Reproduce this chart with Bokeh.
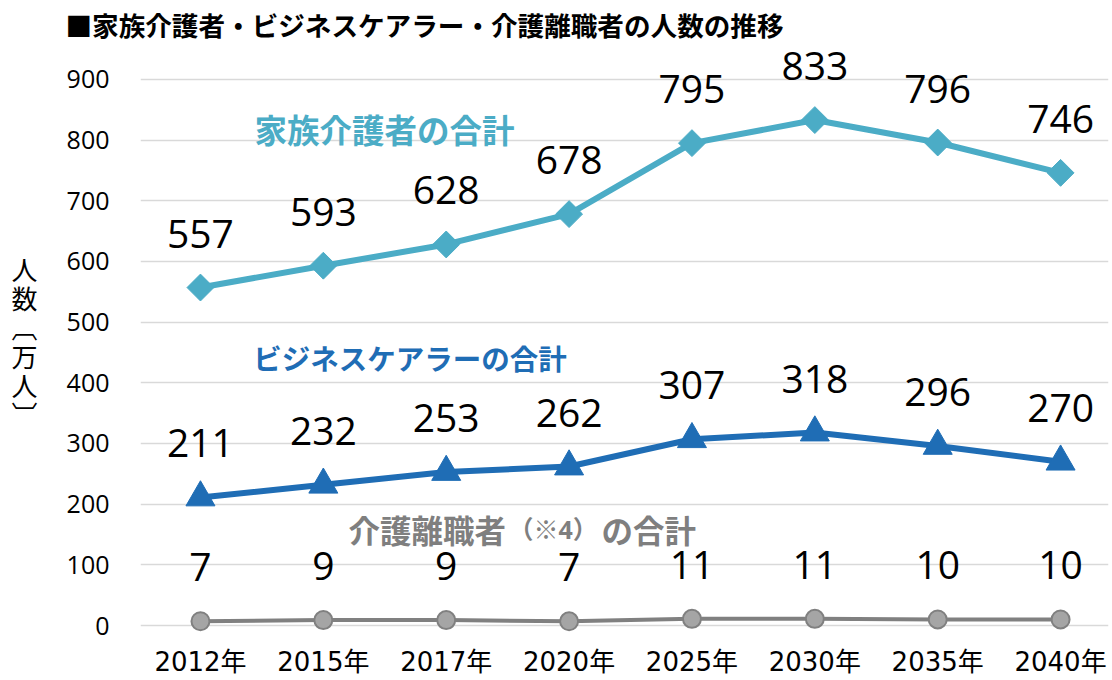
from bokeh.plotting import figure
from bokeh.models import Label, FixedTicker, ColumnDataSource
from bokeh.core.properties import value
from bokeh.embed import file_html
from bokeh.resources import INLINE
import numpy as np

years = ["2012年", "2015年", "2017年", "2020年", "2025年", "2030年", "2035年", "2040年"]
family = [557, 593, 628, 678, 795, 833, 796, 746]
business = [211, 232, 253, 262, 307, 318, 296, 270]
leave = [7, 9, 9, 7, 11, 11, 10, 10]
y_ticks = [0, 100, 200, 300, 400, 500, 600, 700, 800, 900]

title_text = "■家族介護者・ビジネスケアラー・介護離職者の人数の推移"
y_label = "人\n数\n︹\n万\n人\n︺"
family_name = "家族介護者の合計"
business_name = "ビジネスケアラーの合計"
leave_name = ["介護離職者", "（※4）", "の合計"]

TEAL = "#4BACC6"
BLUE = "#1F6DB5"
GRAY_LINE = "#808080"
GRAY_FILL = "#A5A5A5"
GRAY_TEXT = "#7F7F7F"
JP_FONT = "Noto Sans CJK JP"

xs = list(range(len(years)))

p = figure(width=1112, height=680, output_backend="svg", toolbar_location=None,
           x_range=(-0.488, 7.39), y_range=(-18.1, 955.9),
           min_border_left=140, min_border_right=4, min_border_top=44, min_border_bottom=44)
p.outline_line_color = None
p.background_fill_color = "white"
p.border_fill_color = "white"

p.title.text = title_text
p.title.align = "left"
p.title.offset = -75
p.title.standoff = 4
p.title.text_font = JP_FONT
p.title.text_font_size = "26.6px"
p.title.text_font_style = "bold"
p.title.text_color = "#000000"

p.xgrid.grid_line_color = None
p.ygrid.grid_line_color = "#D9D9D9"
p.ygrid.grid_line_width = 1.5
p.yaxis.ticker = FixedTicker(ticks=y_ticks)
p.xaxis.ticker = FixedTicker(ticks=xs)
p.xaxis.major_label_overrides = {i: y for i, y in enumerate(years)}
for ax in (p.xaxis, p.yaxis):
    ax.axis_line_color = None
    ax.major_tick_line_color = None
    ax.minor_tick_line_color = None
    ax.major_label_text_color = "#000000"
p.yaxis.major_label_text_font = "Open Sans"
p.yaxis.major_label_text_font_size = "25px"
p.yaxis.major_label_standoff = 25
p.xaxis.major_label_text_font = "DejaVu Sans, Noto Sans CJK JP"
p.xaxis.major_label_text_font_size = "26px"
p.xaxis.major_label_standoff = 4

p.yaxis.axis_label = y_label
p.yaxis.axis_label_orientation = "horizontal"
p.yaxis.axis_label_text_font = JP_FONT
p.yaxis.axis_label_text_font_size = "26px"
p.yaxis.axis_label_text_font_style = "normal"
p.yaxis.axis_label_text_color = "#000000"
p.yaxis.axis_label_text_line_height = 0.78
p.yaxis.axis_label_standoff = 26

src = ColumnDataSource(dict(x=xs, fam=family, bus=business, lea=leave,
                            fam_t=[str(v) for v in family],
                            bus_t=[str(v) for v in business],
                            lea_t=[str(v) for v in leave]))

# family caregivers
p.line("x", "fam", source=src, line_color=TEAL, line_width=6)
p.scatter("x", "fam", source=src, marker="square", angle=np.pi / 4, size=19,
          fill_color=TEAL, line_color=TEAL)
# business carers
p.line("x", "bus", source=src, line_color=BLUE, line_width=6)
p.scatter("x", "bus", source=src, marker="triangle", size=29,
          fill_color=BLUE, line_color=BLUE)
# care leavers
p.line("x", "lea", source=src, line_color=GRAY_LINE, line_width=4)
p.scatter("x", "lea", source=src, marker="circle", size=18,
          fill_color=GRAY_FILL, line_color=GRAY_LINE, line_width=2)

for col, txt in (("fam", "fam_t"), ("bus", "bus_t"), ("lea", "lea_t")):
    p.text("x", col, text=txt, source=src, text_align="center", text_baseline="middle",
           y_offset=-54, text_font=value("Open Sans"), text_font_size="39px",
           text_color="#000000")

# series names
p.add_layout(Label(x=0.44, y=819, text=family_name, text_align="left", text_baseline="middle",
                   text_font=JP_FONT, text_font_size="32.5px", text_font_style="bold",
                   text_color=TEAL))
p.add_layout(Label(x=0.43, y=442, text=business_name, text_align="left", text_baseline="middle",
                   text_font=JP_FONT, text_font_size="28.5px", text_font_style="bold",
                   text_color=BLUE))
p.add_layout(Label(x=1.205, y=159, text=leave_name[0], text_align="left", text_baseline="middle",
                   text_font=JP_FONT, text_font_size="31.5px", text_font_style="bold",
                   text_color=GRAY_TEXT))
p.add_layout(Label(x=2.87, y=159, text=leave_name[1], text_align="center", text_baseline="middle",
                   text_font="Open Sans, Noto Sans CJK JP", text_font_size="25px",
                   text_font_style="bold", text_color=GRAY_TEXT))
p.add_layout(Label(x=3.264, y=159, text=leave_name[2], text_align="left", text_baseline="middle",
                   text_font=JP_FONT, text_font_size="31.5px", text_font_style="bold",
                   text_color=GRAY_TEXT))

open("out.html", "w").write(file_html(p, INLINE))
